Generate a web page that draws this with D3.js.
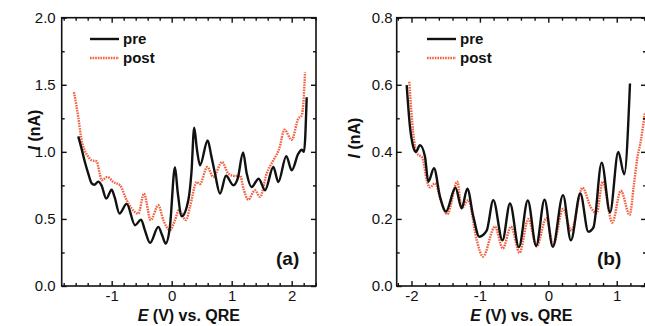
<!DOCTYPE html>
<html>
<head>
<meta charset="utf-8">
<script src="https://cdn.jsdelivr.net/npm/d3@7"></script>
<style>
  body { margin: 0; background: #fff; }
  svg { display: block; font-family: "Liberation Sans", Arial, sans-serif; }
</style>
</head>
<body>
<div id="chart"></div>
<script>
// panel (a) data, [E (V), I (nA)]
const preA = [
  [-1.557, 1.115], [-1.50, 1.02], [-1.45, 0.93], [-1.39, 0.838], [-1.333, 0.765],
  [-1.29, 0.755], [-1.223, 0.778], [-1.17, 0.75], [-1.09, 0.652], [-1.0, 0.718],
  [-0.95, 0.66], [-0.87, 0.54], [-0.75, 0.612], [-0.61, 0.453], [-0.51, 0.495],
  [-0.45, 0.42], [-0.36, 0.322], [-0.223, 0.441], [-0.16, 0.38], [-0.1, 0.317],
  [-0.03, 0.44], [0.055, 0.885], [0.10, 0.70], [0.167, 0.52], [0.277, 0.64],
  [0.33, 0.85], [0.375, 1.18], [0.42, 1.02], [0.472, 0.9], [0.60, 1.085],
  [0.66, 0.97], [0.722, 0.838], [0.805, 0.689], [0.905, 0.822], [1.027, 0.751],
  [1.10, 0.80], [1.19, 0.995], [1.25, 0.84], [1.33, 0.738], [1.45, 0.8],
  [1.555, 0.714], [1.694, 0.887], [1.777, 0.775], [1.91, 0.968], [2.0, 0.862],
  [2.11, 0.986], [2.167, 1.016], [2.205, 1.0], [2.25, 1.407]
];
const postA = [
  [-1.628, 1.445], [-1.59, 1.35], [-1.557, 1.259], [-1.5, 1.085], [-1.45, 1.01],
  [-1.40, 0.97], [-1.333, 0.937], [-1.25, 0.929], [-1.20, 0.84], [-1.167, 0.788],
  [-1.073, 0.813], [-0.973, 0.775], [-0.862, 0.751], [-0.75, 0.639], [-0.667, 0.578],
  [-0.557, 0.54], [-0.462, 0.689], [-0.35, 0.491], [-0.223, 0.602], [-0.14, 0.491],
  [-0.028, 0.416], [0.055, 0.491], [0.12, 0.565], [0.238, 0.491], [0.305, 0.59],
  [0.417, 0.775], [0.47, 0.76], [0.593, 0.887], [0.693, 0.813], [0.84, 0.924],
  [0.943, 0.838], [1.05, 0.82], [1.138, 0.825], [1.20, 0.72], [1.277, 0.644],
  [1.388, 0.714], [1.472, 0.664], [1.583, 0.838], [1.694, 0.937], [1.79, 1.02],
  [1.88, 1.165], [2.0, 1.09], [2.11, 1.247], [2.167, 1.271], [2.20, 1.40],
  [2.222, 1.593]
];

// panel (b) data
const preB = [
  [-2.07, 0.599], [-2.022, 0.475], [-1.974, 0.415], [-1.934, 0.40], [-1.876, 0.42],
  [-1.803, 0.386], [-1.754, 0.311], [-1.671, 0.351], [-1.583, 0.266], [-1.496, 0.222],
  [-1.357, 0.293], [-1.266, 0.232], [-1.184, 0.29], [-1.096, 0.207], [-1.009, 0.147],
  [-0.901, 0.165], [-0.804, 0.256], [-0.67, 0.136], [-0.56, 0.246], [-0.43, 0.116],
  [-0.30, 0.255], [-0.177, 0.12], [-0.055, 0.257], [0.065, 0.117], [0.215, 0.271],
  [0.33, 0.136], [0.468, 0.276], [0.585, 0.162], [0.66, 0.175], [0.78, 0.368],
  [0.902, 0.22], [1.023, 0.40], [1.11, 0.333], [1.194, 0.604]
];
const postB = [
  [-2.032, 0.609], [-1.974, 0.455], [-1.924, 0.396], [-1.876, 0.388], [-1.837, 0.381],
  [-1.778, 0.316], [-1.729, 0.294], [-1.656, 0.306], [-1.559, 0.247], [-1.476, 0.214],
  [-1.33, 0.311], [-1.266, 0.232], [-1.169, 0.256], [-1.047, 0.137], [-0.955, 0.088],
  [-0.779, 0.177], [-0.665, 0.112], [-0.545, 0.177], [-0.42, 0.099], [-0.292, 0.2],
  [-0.17, 0.118], [-0.03, 0.202], [0.073, 0.122], [0.215, 0.23], [0.335, 0.165],
  [0.5, 0.293], [0.62, 0.235], [0.707, 0.217], [0.795, 0.311], [0.935, 0.189],
  [1.06, 0.284], [1.19, 0.212], [1.25, 0.30], [1.30, 0.38], [1.35, 0.43],
  [1.41, 0.515]
];

const xTicksA = [-1, 0, 1, 2];
const yTicksA = [0, 0.5, 1, 1.5, 2];
const xTicksB = [-2, -1, 0, 1];
const yTicksB = [0, 0.2, 0.4, 0.6, 0.8];
const seriesNames = ['pre', 'post'];

const W = 645, H = 326;
const preColor = '#111';
const postColor = '#f2603f';

const svg = d3.select('#chart').append('svg')
  .attr('width', W)
  .attr('height', H);

function drawPanel(p) {
  const x = d3.scaleLinear().domain(p.xDomain).range([p.left, p.right]);
  const y = d3.scaleLinear().domain(p.yDomain).range([p.bottom, p.top]);
  const g = svg.append('g');

  const line = d3.line()
    .x(d => x(d[0]))
    .y(d => y(d[1]))
    .curve(d3.curveMonotoneX);

  // curves
  g.append('path')
    .datum(p.post)
    .attr('d', line)
    .attr('fill', 'none')
    .attr('stroke', postColor)
    .attr('stroke-width', 2.4)
    .attr('stroke-dasharray', '1.6,1');

  g.append('path')
    .datum(p.pre)
    .attr('d', line)
    .attr('fill', 'none')
    .attr('stroke', preColor)
    .attr('stroke-width', 2.4);

  // ticks, major + minor, inward on all sides
  const xMinor = d3.range(Math.ceil(p.xDomain[0] / p.xMinor) * p.xMinor, p.xDomain[1], p.xMinor)
    .filter(v => !p.xTicks.some(t => Math.abs(t - v) < 1e-6));
  const yMinor = d3.range(p.yDomain[0], p.yDomain[1], p.yMinor)
    .filter(v => !p.yTicks.some(t => Math.abs(t - v) < 1e-6));

  g.append('g')
    .attr('transform', `translate(0,${p.bottom})`)
    .call(d3.axisBottom(x).tickValues(p.xTicks).tickSizeInner(-5).tickSizeOuter(0).tickPadding(4)
      .tickFormat(d => d3.format('d')(d).replace('−', '-')))
    .call(s => s.select('.domain').remove())
    .call(s => s.selectAll('text').attr('font-size', 15).attr('fill', '#111'));
  g.append('g')
    .attr('transform', `translate(0,${p.bottom})`)
    .call(d3.axisBottom(x).tickValues(xMinor).tickSizeInner(-3).tickSizeOuter(0).tickFormat(''))
    .call(s => s.select('.domain').remove());
  g.append('g')
    .attr('transform', `translate(0,${p.top})`)
    .call(d3.axisTop(x).tickValues(p.xTicks).tickSizeInner(-5).tickSizeOuter(0).tickFormat(''))
    .call(s => s.select('.domain').remove());
  g.append('g')
    .attr('transform', `translate(0,${p.top})`)
    .call(d3.axisTop(x).tickValues(xMinor).tickSizeInner(-3).tickSizeOuter(0).tickFormat(''))
    .call(s => s.select('.domain').remove());

  g.append('g')
    .attr('transform', `translate(${p.left},0)`)
    .call(d3.axisLeft(y).tickValues(p.yTicks).tickSizeInner(-5).tickSizeOuter(0).tickPadding(p.yPad)
      .tickFormat(d3.format('.1f')))
    .call(s => s.select('.domain').remove())
    .call(s => s.selectAll('text').attr('font-size', 15).attr('fill', '#111'));
  g.append('g')
    .attr('transform', `translate(${p.left},0)`)
    .call(d3.axisLeft(y).tickValues(yMinor).tickSizeInner(-3).tickSizeOuter(0).tickFormat(''))
    .call(s => s.select('.domain').remove());
  g.append('g')
    .attr('transform', `translate(${p.right},0)`)
    .call(d3.axisRight(y).tickValues(p.yTicks).tickSizeInner(-5).tickSizeOuter(0).tickFormat(''))
    .call(s => s.select('.domain').remove());
  g.append('g')
    .attr('transform', `translate(${p.right},0)`)
    .call(d3.axisRight(y).tickValues(yMinor).tickSizeInner(-3).tickSizeOuter(0).tickFormat(''))
    .call(s => s.select('.domain').remove());

  g.selectAll('.tick line').attr('stroke', '#111').attr('stroke-width', 1.4);

  // frame
  g.append('rect')
    .attr('x', p.left)
    .attr('y', p.top)
    .attr('width', p.right - p.left)
    .attr('height', p.bottom - p.top)
    .attr('fill', 'none')
    .attr('stroke', '#111')
    .attr('stroke-width', 1.6);

  // legend
  const leg = g.append('g');
  seriesNames.forEach((name, i) => {
    const ly = p.legY + i * 19;
    leg.append('line')
      .attr('x1', p.legX).attr('x2', p.legX + 29)
      .attr('y1', ly).attr('y2', ly)
      .attr('stroke', i === 0 ? preColor : postColor)
      .attr('stroke-width', 2.4)
      .attr('stroke-dasharray', i === 0 ? null : '1.6,1');
    leg.append('text')
      .attr('x', p.legX + 33)
      .attr('y', ly + 5)
      .attr('font-size', 15)
      .attr('font-weight', 'bold')
      .attr('fill', '#111')
      .text(name);
  });

  // panel label
  g.append('text')
    .attr('x', p.tagX)
    .attr('y', 265)
    .attr('font-size', 19)
    .attr('font-weight', 'bold')
    .attr('fill', '#111')
    .text(p.tag);

  // axis titles
  const xt = g.append('text')
    .attr('x', (p.left + p.right) / 2)
    .attr('y', 321)
    .attr('text-anchor', 'middle')
    .attr('font-size', 16)
    .attr('font-weight', 'bold')
    .attr('fill', '#111');
  xt.append('tspan').attr('font-style', 'italic').text('E');
  xt.append('tspan').text(' (V) vs. QRE');

  const yt = g.append('text')
    .attr('transform', `translate(${p.yTitleX},${p.yTitleY}) rotate(-90)`)
    .attr('text-anchor', 'middle')
    .attr('font-size', 16)
    .attr('font-weight', 'bold')
    .attr('fill', '#111');
  yt.append('tspan').attr('font-style', 'italic').text('I');
  yt.append('tspan').text(' (nA)');
}

drawPanel({
  pre: preA, post: postA,
  xDomain: [-1.833, 2.405], yDomain: [0, 2],
  left: 61.7, right: 316, top: 17.7, bottom: 286,
  xTicks: xTicksA, yTicks: yTicksA, xMinor: 0.2, yMinor: 0.25,
  yPad: 6, legX: 90, legY: 39, tag: '(a)', tagX: 276,
  yTitleX: 40, yTitleY: 130
});

drawPanel({
  pre: preB, post: postB,
  xDomain: [-2.216, 1.428], yDomain: [0, 0.8],
  left: 396.7, right: 646, top: 17.7, bottom: 286,
  xTicks: xTicksB, yTicks: yTicksB, xMinor: 0.2, yMinor: 0.1,
  yPad: 4, legX: 427, legY: 39, tag: '(b)', tagX: 597,
  yTitleX: 360, yTitleY: 138
});
</script>
</body>
</html>
